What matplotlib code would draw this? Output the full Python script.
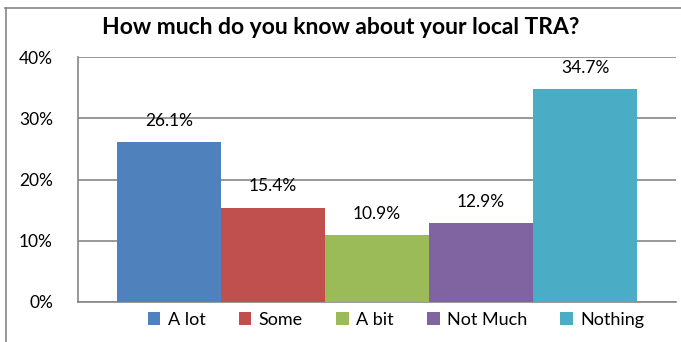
import matplotlib.pyplot as plt
from matplotlib.lines import Line2D
from matplotlib.ticker import FuncFormatter

categories = ["A lot", "Some", "A bit", "Not Much", "Nothing"]
values = [26.1, 15.4, 10.9, 12.9, 34.7]
colors = ["#4F81BD", "#C0504D", "#9BBB59", "#8064A2", "#4BACC6"]
yticks = [0, 10, 20, 30, 40]

plt.rcParams['font.family'] = ['Lato', 'DejaVu Sans']

fig = plt.figure(figsize=(6.81, 3.42), dpi=100)
ax = fig.add_axes([78 / 681, 40 / 342, 598 / 681, 245 / 342])

# one category, five series side by side
bw = 0.174
n = len(values)
start = -bw * n / 2
for i, (c, v, col) in enumerate(zip(categories, values, colors)):
    x = start + bw * (i + 0.5)
    ax.bar(x, v, width=bw, color=col, label=c, zorder=3)
    ax.text(x, v + 2.2, f"{v:.1f}%", ha='center', va='bottom', fontsize=12.5)

ax.set_xlim(-0.5, 0.5)
ax.set_ylim(0, 40)
ax.set_yticks(yticks)
ax.yaxis.set_major_formatter(FuncFormatter(lambda y, _: f"{y:.0f}%"))
ax.tick_params(axis='y', length=0, labelsize=12.5, pad=18)
ax.set_xticks([])
ax.grid(axis='y', color='#868686', linewidth=1.2, zorder=0)
for s in ['top', 'right']:
    ax.spines[s].set_visible(False)
ax.spines['left'].set_color('#868686')
ax.spines['bottom'].set_color('#868686')
ax.spines['left'].set_linewidth(1.2)
ax.spines['bottom'].set_linewidth(1.2)

fig.text(0.5, 1 - 28 / 342, "How much do you know about your local TRA?",
         ha='center', va='center', fontsize=16.5, fontweight='bold')

fig.legend(loc='center', bbox_to_anchor=(396 / 681, 1 - 320 / 342), ncol=5,
           frameon=False, fontsize=13, handlelength=0.7, handleheight=0.7,
           handletextpad=0.4, columnspacing=1.85)

# outer chart frame
fig.add_artist(Line2D([5 / 681, 1], [1 - 8 / 342, 1 - 8 / 342], color='#868686', lw=1.2))
fig.add_artist(Line2D([6 / 681, 6 / 681], [0, 1 - 8 / 342], color='#868686', lw=1.2))

fig.savefig("out.png", dpi=100)
